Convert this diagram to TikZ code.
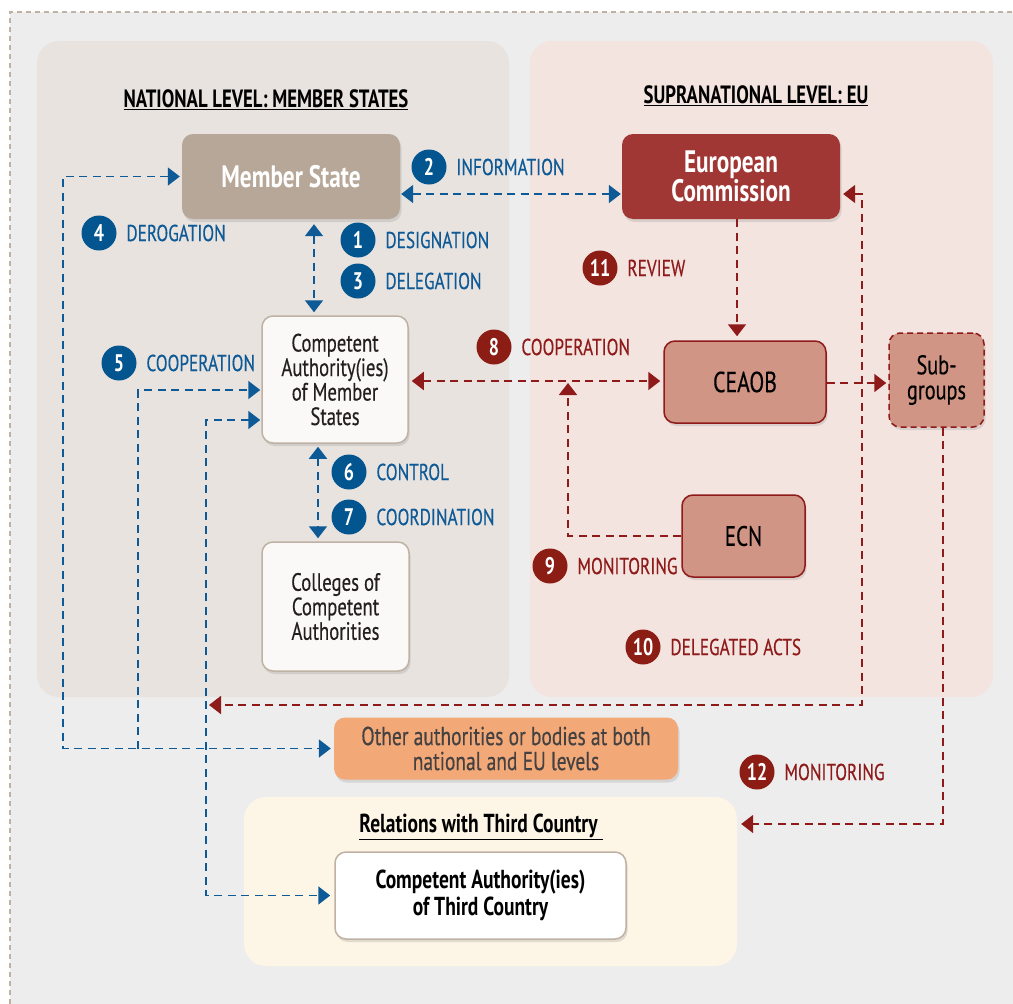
\documentclass[tikz,border=0pt]{standalone}
\usepackage{fontspec}
\setmainfont{PT Sans}[FakeStretch=0.75, UprightFeatures={FakeBold=0.35}]
\usetikzlibrary{arrows.meta,shadows}
\definecolor{bgG}{HTML}{EDEDED}
\definecolor{natP}{HTML}{E8E3DF}
\definecolor{euP}{HTML}{F3E4E0}
\definecolor{msC}{HTML}{B7A798}
\definecolor{ecC}{HTML}{A03735}
\definecolor{ceC}{HTML}{D09584}
\definecolor{redC}{HTML}{8E1A1A}
\definecolor{bluC}{HTML}{0E5A96}
\definecolor{bluN}{HTML}{03558F}
\definecolor{redN}{HTML}{8C1D15}
\definecolor{othC}{HTML}{F2A877}
\definecolor{relC}{HTML}{FDF5E5}
\definecolor{tanC}{HTML}{BFB1A3}
\definecolor{caF}{HTML}{FAF9F8}
\definecolor{txtC}{HTML}{231F20}
\newcommand\numlab[5]{%
  \node[numc=#5N] (n#3) at (#1,#2) {#3};
  \node[lbl=#5C] (t#3) at ([xshift=9.5pt]n#3.east) {#4};}
\begin{document}
\begin{tikzpicture}[x=1pt,y=-1pt,
  >={Triangle[length=12pt,width=18pt]},
  bl/.style={draw=bluC, line width=1.9pt, dash pattern=on 8pt off 5.5pt},
  rd/.style={draw=redC, line width=1.9pt, dash pattern=on 8pt off 5.5pt},
  panel/.style={rounded corners=22pt, inner sep=0pt},
  box/.style={rounded corners=11pt, inner sep=0pt, align=center,
    drop shadow={opacity=0.22, shadow xshift=1.5pt, shadow yshift=-3pt}},
  fb/.style={font=\fontsize{31}{24}\selectfont\bfseries},
  fn/.style={font=\fontsize{25}{24.5}\selectfont},
  numc/.style={circle, fill=#1, text=white, minimum size=35pt, inner sep=0pt,
    font=\fontsize{24}{24}\selectfont\bfseries},
  lbl/.style={text=#1, inner sep=0pt, anchor=west, font=\fontsize{23}{23}\selectfont},
  ttl/.style={font=\fontsize{25}{25}\selectfont\bfseries, inner sep=0pt}
]
\useasboundingbox (0,0) rectangle (1013,1004);
\fill[white] (0,0) rectangle (1013,1004);
\fill[bgG] (10,12) rectangle (1013,1004);
\draw[tanC, line width=1.3pt, dash pattern=on 5pt off 4pt] (10,1004) -- (10,12) -- (1013,12);

% panels
\node[panel, fill=natP, minimum width=472, minimum height=656] (NAT) at (273,369) {};
\node[panel, fill=euP, minimum width=463, minimum height=656] (EU) at (761.5,369) {};
\node[panel, fill=relC, minimum width=493, minimum height=169] (REL) at (490.5,881.5) {};

% titles
\node[ttl] (tNAT) at (266,100) {\underline{NATIONAL LEVEL: MEMBER STATES}};
\node[ttl] (tEU) at (756,96) {\underline{SUPRANATIONAL LEVEL: EU}};
\node[ttl, font=\fontsize{26}{26}\selectfont\bfseries] (tREL) at (481,827) {\underline{Relations with Third Country\ }};

% boxes
\node[box, fill=msC, minimum width=218, minimum height=85, text=white, fb] (MS) at (291,176.5) {Member State};
\node[box, fill=ecC, minimum width=218, minimum height=85, text=white, fb] (EC) at (731,176.5) {European\\Commission};
\node[box, fill=caF, draw=tanC, line width=1.5pt, minimum width=146, minimum height=127, text=txtC, fn] (CA) at (335,379.5) {Competent\\Authority(ies)\\of Member\\States};
\node[box, fill=caF, draw=tanC, line width=1.5pt, minimum width=147, minimum height=129, text=txtC, fn] (COL) at (335.5,606.5) {Colleges of\\Competent\\Authorities};
\node[box, fill=ceC, draw=redC, line width=1.5pt, minimum width=162, minimum height=82, text=black, font=\fontsize{29}{24}\selectfont] (CEAOB) at (745,382) {CEAOB};
\node[box, fill=ceC, draw=redC, line width=1.5pt, dash pattern=on 6pt off 4pt, minimum width=95, minimum height=94, text=black, font=\fontsize{27}{25}\selectfont] (SUB) at (936.5,380) {Sub-\\groups};
\node[box, fill=ceC, draw=redC, line width=1.5pt, minimum width=123, minimum height=82, text=black, font=\fontsize{28}{24}\selectfont] (ECN) at (743.5,536) {ECN};
\node[box, fill=othC, minimum width=344, minimum height=62, text=txtC!85, font=\fontsize{26}{25}\selectfont] (OTH) at (506,748.5) {Other authorities or bodies at both\\national and EU levels};
\node[box, fill=white, draw=tanC, line width=1.5pt, minimum width=291, minimum height=87, text=black, font=\fontsize{26}{27}\selectfont\bfseries] (TC) at (480.5,895.5) {Competent Authority(ies)\\of Third Country};

% helper coordinates
\coordinate (yI) at (0,194);
\coordinate (xD) at (314,0);
\coordinate (jD) at (63,0);
\coordinate (x5) at (138,0);
\coordinate (x6) at (206,0);
\coordinate (x7) at (318,0);
\coordinate (y8) at (0,381);
\coordinate (xr) at (737,0);
\coordinate (m9) at (568,383);
\coordinate (ys) at (0,383);
\coordinate (xd) at (862,0);
\coordinate (dA) at (209,705);
\coordinate (x12) at (943,0);
\coordinate (y12) at (0,824);

% blue connectors
\draw[bl,<->, shorten <=1pt, shorten >=1pt] (MS.east |- yI) -- (EC.west |- yI);
\draw[bl,<->, shorten <=5pt, shorten >=3pt] (MS.south -| xD) -- (CA.north -| xD);
\draw[bl,<->, shorten <=2pt, shorten >=3pt] (MS.west) -| (OTH.west -| jD) -- (OTH.west);
\draw[bl,->, shorten >=1pt] (OTH.west -| x5) |- ([yshift=-10.5pt]CA.west);
\draw[bl,<->, shorten <=1pt, shorten >=4pt] ([yshift=-40.5pt]CA.west) -| (TC.west -| x6) -- (TC.west);
\draw[bl,<->, shorten <=3pt, shorten >=3pt] (CA.south -| x7) -- (COL.north -| x7);

% red connectors
\draw[rd,<->, shorten <=3pt, shorten >=3pt] (CA.east |- y8) -- (CEAOB.west |- y8);
\draw[rd,->, shorten >=4pt] (EC.south -| xr) -- (CEAOB.north -| xr);
\draw[rd,->] (ECN.west) -| (m9);
\draw[rd,->, shorten >=2pt] (CEAOB.east |- ys) -- (SUB.west |- ys);
\draw[rd,<->, shorten <=3pt] (EC.east |- yI) -| (dA -| xd) -- (dA);
\draw[rd,->, shorten >=4pt] (SUB.south -| x12) |- (REL.east |- y12);

% labels
\numlab{429}{167}{2}{INFORMATION}{blu}
\numlab{358}{240}{1}{DESIGNATION}{blu}
\numlab{358}{281}{3}{DELEGATION}{blu}
\numlab{99}{233}{4}{DEROGATION}{blu}
\numlab{119}{363}{5}{COOPERATION}{blu}
\numlab{349}{472}{6}{CONTROL}{blu}
\numlab{349}{517}{7}{COORDINATION}{blu}
\numlab{494}{347}{8}{COOPERATION}{red}
\numlab{600}{268}{11}{REVIEW}{red}
\numlab{550}{566}{9}{MONITORING}{red}
\numlab{643}{647}{10}{DELEGATED ACTS}{red}
\numlab{757}{772}{12}{MONITORING}{red}
\end{tikzpicture}
\end{document}
